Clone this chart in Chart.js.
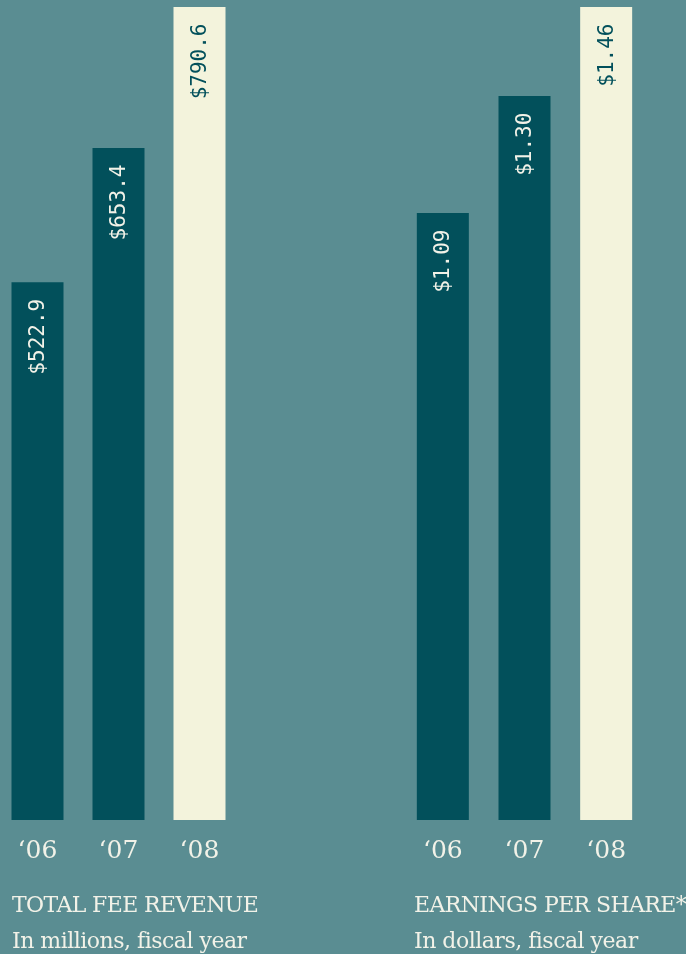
<!DOCTYPE html>
<html>
<head>
<meta charset="utf-8">
<script src="https://cdn.jsdelivr.net/npm/chart.js@4/dist/chart.umd.min.js"></script>
<style>
  html, body { margin: 0; padding: 0; }
  body {
    width: 686px; height: 954px; overflow: hidden; position: relative;
    background: #5a8d92;
    font-family: 'DejaVu Serif', serif;
    color: #f2f2e8;
  }
  .chart { position: absolute; top: 0; height: 954px; }
  #feeWrap { left: -3px; width: 243px; }
  #epsWrap { left: 402px; width: 245px; }
  .title { position: absolute; font-size: 22px; letter-spacing: -0.6px; white-space: nowrap; line-height: 1; }
  .sub   { position: absolute; font-size: 22px; letter-spacing: -0.5px; white-space: nowrap; line-height: 1; }
</style>
</head>
<body>
<div class="chart" id="feeWrap"><canvas id="feeChart"></canvas></div>
<div class="chart" id="epsWrap"><canvas id="epsChart"></canvas></div>

<div class="title" style="left:12px; top:894px;">TOTAL FEE REVENUE</div>
<div class="sub"   style="left:12px; top:930px;">In millions, fiscal year</div>
<div class="title" style="left:414px; top:894px;">EARNINGS PER SHARE*</div>
<div class="sub"   style="left:414px; top:930px;">In dollars, fiscal year</div>

<script>
/* ── Datos ── */
const YEARS   = ['\u201806', '\u201807', '\u201808'];
const FEE     = [522.9, 653.4, 790.6];
const EPS     = [1.09, 1.30, 1.46];
const FEE_TXT = ['$522.9', '$653.4', '$790.6'];
const EPS_TXT = ['$1.09', '$1.30', '$1.46'];

const DARK  = '#02505b';
const CREAM = '#f3f3dc';
const WHITE = '#f2f2e8';

/* ── Etiquetas verticales dentro de la barra ── */
const valueLabels = {
  id: 'valueLabels',
  afterDatasetsDraw(chart, args, opts) {
    const ctx = chart.ctx;
    const meta = chart.getDatasetMeta(0);
    ctx.save();
    ctx.font = '21px "DejaVu Sans Mono", monospace';
    ctx.textAlign = 'right';
    ctx.textBaseline = 'middle';
    meta.data.forEach((bar, i) => {
      ctx.save();
      ctx.translate(bar.x, bar.y + 16.5);
      ctx.rotate(-Math.PI / 2);
      ctx.fillStyle = i === 2 ? DARK : WHITE;
      ctx.fillText(opts.texts[i], 0, 1);
      ctx.restore();
    });
    ctx.restore();
  }
};

function makeBar(id, values, texts, max, barPct) {
  new Chart(document.getElementById(id), {
    type: 'bar',
    data: {
      labels: YEARS,
      datasets: [{
        data: values,
        backgroundColor: [DARK, DARK, CREAM],
        borderWidth: 0,
        categoryPercentage: 1,
        barPercentage: barPct,
      }],
    },
    options: {
      responsive: true,
      maintainAspectRatio: false,
      animation: false,
      layout: { padding: { top: 7, bottom: 72, left: 0, right: 0 } },
      plugins: {
        legend: { display: false },
        tooltip: { enabled: false },
        valueLabels: { texts },
      },
      scales: {
        x: {
          grid: { display: false, drawTicks: false },
          border: { display: false },
          ticks: {
            color: WHITE,
            padding: 16,
            font: { family: "'DejaVu Serif', serif", size: 25 },
            maxRotation: 0,
          },
        },
        y: { display: false, min: 0, max },
      },
    },
    plugins: [valueLabels],
  });
}

/* ── Init ── */
makeBar('feeChart', FEE, FEE_TXT, 790.6, 52 / 81);
makeBar('epsChart', EPS, EPS_TXT, 1.46, 52 / 81.67);
</script>
</body>
</html>
